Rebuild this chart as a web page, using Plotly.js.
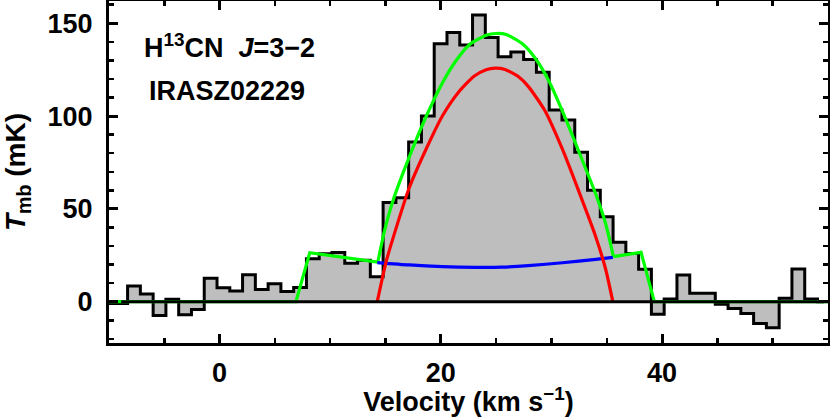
<!DOCTYPE html>
<html>
<head>
<meta charset="utf-8">
<script src="https://cdn.plot.ly/plotly-3.0.1.min.js"></script>
<style>html,body{margin:0;padding:0;background:#fff;}#chart{width:830px;height:417px;}</style>
</head>
<body>
<div id="chart"></div>
<script>
// Channel centre velocities (km/s) of the observed spectrum
const velocity = [-10.05, -8.90, -7.74, -6.59, -5.43, -4.28, -3.12, -1.97, -0.81, 0.34,
  1.50, 2.65, 3.81, 4.96, 6.12, 7.27, 8.43, 9.58, 10.74, 11.89,
  13.05, 14.20, 15.36, 16.51, 17.67, 18.82, 19.98, 21.13, 22.29, 23.44,
  24.60, 25.75, 26.91, 28.06, 29.22, 30.37, 31.53, 32.68, 33.84, 34.99,
  36.15, 37.30, 38.46, 39.61, 40.77, 41.92, 43.08, 44.23, 45.39, 46.54,
  47.70, 48.85, 50.01, 51.16, 52.32, 53.47, 54.63, 55.78];
// Observed main-beam temperature (mK)
const tmb = [-1, -1, 8.4, 4.1, -7.5, 1.3, -7.0, -4.2, 12.7, 7.5,
  5.7, 14.5, 6.6, 9.7, 5.5, 7.6, 23.2, 25.8, 26.5, 20.7,
  22.3, 13.5, 53.5, 56, 86, 100, 139, 145, 138.3, 154.5,
  142.3, 132, 134.5, 130.5, 123.6, 103.3, 97.9, 80.5, 60, 45.8,
  32, 26, 17.5, -6.8, 1.4, 14.4, 4.5, 4.5, -1.4, -3.6,
  -6.3, -11.7, -14.0, 1.8, 17.6, 1.4, 0, 0];

// Red fitted component
const redV = [14.25, 15.05, 15.95, 17.15, 18.65, 20.15, 21.65, 23.0, 24.1, 24.9, 25.8, 27.0, 27.9, 29.4, 31.0, 32.5, 34.0, 34.9, 35.55];
const redT = [0, 21.5, 39.5, 61.5, 82.0, 100.2, 113.3, 121.5, 125.0, 125.8, 125.1, 121.3, 116.0, 103.0, 82.0, 59.0, 35.0, 17.5, 0];

// Blue fitted component
const blueV = [14.25, 17.15, 20.15, 23.15, 25.5, 27.9, 31.0, 34.0, 35.55];
const blueT = [21.1, 19.8, 18.9, 18.5, 18.6, 19.4, 21.0, 22.8, 23.9];

// Green total fit: left wing, core, right wing
const greenLeftV = [-10, 6.9, 8.15, 14.3];
const greenLeftT = [0, 0, 26.4, 21.3];
const greenCoreV = [14.3, 14.9, 15.65, 17.15, 18.65, 20.15, 21.35, 22.6, 24.1, 25.0, 25.9, 27.4, 28.6, 29.8, 31.0, 32.5, 34.0, 34.9, 35.6];
const greenCoreT = [21.3, 38.0, 54.0, 78.0, 99.5, 118.0, 129.7, 138.6, 143.6, 144.5, 144.0, 138.8, 130.6, 118.5, 102.5, 80.5, 58.0, 42.0, 24.3];
const greenRightV = [35.6, 38.1, 39.3, 55];
const greenRightT = [24.3, 26.6, 0, 0];

const FAMILY = 'Liberation Sans, Arial, Helvetica, sans-serif';
const TICKFONT = {family: FAMILY, size: 27, color: '#000', weight: 'bold'};
const TITLEFONT = {family: FAMILY, size: 27, color: '#000', weight: 'bold'};
const NOTEFONT = {family: FAMILY, size: 27, color: '#000', weight: 'bold'};

const traces = [
  {x: velocity, y: tmb, type: 'scatter', mode: 'lines', line: {shape: 'hvh', color: '#000', width: 3},
   fill: 'tozeroy', fillcolor: '#bebebe', hoverinfo: 'skip'},
  {x: greenLeftV, y: greenLeftT, mode: 'lines', line: {color: '#00ff00', width: 3.2}},
  {x: greenCoreV, y: greenCoreT, mode: 'lines', line: {color: '#00ff00', width: 3.2, shape: 'spline', smoothing: 0.6}},
  {x: greenRightV, y: greenRightT, mode: 'lines', line: {color: '#00ff00', width: 3.2}},
  {x: blueV, y: blueT, mode: 'lines', line: {color: '#0000ff', width: 3.2, shape: 'spline', smoothing: 0.6}},
  {x: redV, y: redT, mode: 'lines', line: {color: '#ff0000', width: 3.2, shape: 'spline', smoothing: 0.6}},
  {x: [velocity[1], velocity[velocity.length - 2]], y: [0, 0], mode: 'lines', line: {color: '#000', width: 3}}
];

const axisCommon = {
  showline: true, linecolor: '#000', linewidth: 3, mirror: 'ticks',
  ticks: 'inside', ticklen: 9, tickwidth: 3, tickcolor: '#000',
  showgrid: false, zeroline: false, tickfont: TICKFONT
};

const layout = {
  width: 830, height: 417,
  margin: {l: 109, r: 2, t: 1, b: 74},
  paper_bgcolor: '#fff', plot_bgcolor: '#fff',
  showlegend: false,
  font: TICKFONT,
  xaxis: Object.assign({}, axisCommon, {
    range: [-10, 55], tick0: 0, dtick: 20,
    minor: {ticks: 'inside', ticklen: 5, tickwidth: 2.5, tickcolor: '#000', dtick: 5, showgrid: false},
    ticklabelstandoff: 4,
    title: {text: 'Velocity (km s<sup>−1</sup>)', font: TITLEFONT, standoff: 3}
  }),
  yaxis: Object.assign({}, axisCommon, {
    range: [-22.25, 162], tick0: 0, dtick: 50,
    minor: {ticks: 'inside', ticklen: 5, tickwidth: 2.5, tickcolor: '#000', dtick: 10, showgrid: false},
    ticklabelstandoff: 8,
    title: {text: '<i>T</i><sub>mb</sub> (mK)', font: {family: FAMILY, size: 28, color: '#000', weight: 'bold'}, standoff: 20}
  }),
  annotations: [
    {xref: 'paper', yref: 'paper', x: 0.046, y: 0.868, xanchor: 'left', yanchor: 'middle', showarrow: false,
     text: 'H<sup>13</sup>CN &nbsp;<i>J</i>=3−2', font: NOTEFONT},
    {xref: 'paper', yref: 'paper', x: 0.053, y: 0.737, xanchor: 'left', yanchor: 'middle', showarrow: false,
     text: 'IRASZ02229', font: NOTEFONT}
  ]
};

Plotly.newPlot('chart', traces, layout, {staticPlot: true, displayModeBar: false});
</script>
</body>
</html>
